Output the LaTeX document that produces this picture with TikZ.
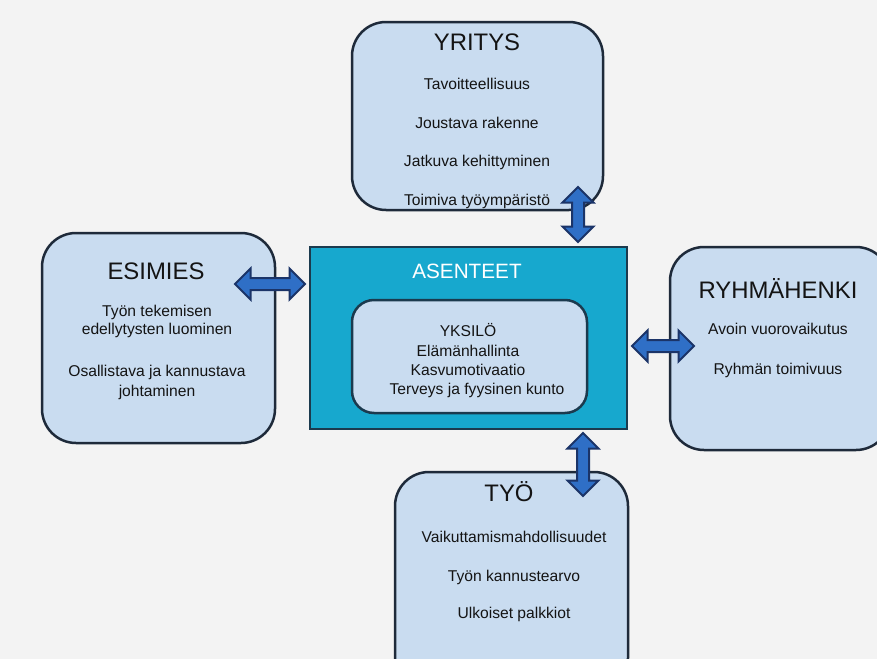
\documentclass[tikz,border=0pt]{standalone}
\usepackage{fontspec}
\setmainfont{Liberation Sans}
\usepackage{xcolor}
\usetikzlibrary{shapes.arrows}

\newdimen\pxu \pxu=0.02cm
\definecolor{bgGray}{HTML}{F3F3F3}
\definecolor{boxFill}{HTML}{C9DCF0}
\definecolor{boxLine}{HTML}{1E2A3A}
\definecolor{coreFill}{HTML}{17A8CE}
\definecolor{coreLine}{HTML}{1B3A4E}
\definecolor{arrFill}{HTML}{2F6FC6}
\definecolor{arrLine}{HTML}{1B3468}
\definecolor{txtDark}{HTML}{141414}

\tikzset{
    box/.style={draw=boxLine, fill=boxFill, line width=2.5\pxu, rounded corners=34\pxu, inner sep=0pt},
    title/.style={anchor=base, text=txtDark, font=\fontsize{13.6}{16}\selectfont},
    item/.style={anchor=base, text=txtDark, font=\fontsize{8.9}{11}\selectfont},
    dblarrow/.style={double arrow, draw=arrLine, fill=arrFill, line width=2\pxu, inner xsep=0pt, inner ysep=5\pxu,
        minimum width=29\pxu, double arrow head extend=9.5\pxu, double arrow tip angle=90, sloped, midway}
}

\begin{document}
\begin{tikzpicture}[x=0.02cm, y=-0.02cm]
        % Background
        \fill[bgGray] (0,0) rectangle (877,659);
        \useasboundingbox (0,0) rectangle (877,659);
        \clip (0,0) rectangle (877,659);

        % Yritys (top)
        \node[box, minimum width=251\pxu, minimum height=188\pxu] (yritys) at (477.5,116) {};
        \node[title] (yritysT) at (477,51) {YRITYS};
        \node[item] (yritys1) at (477,90) {Tavoitteellisuus};
        \node[item] (yritys2) at (477,128) {Joustava rakenne};
        \node[item] (yritys3) at (477,166) {Jatkuva kehittyminen};
        \node[item] (yritys4) at (477,205) {Toimiva työympäristö};

        % Esimies (left)
        \node[box, minimum width=233\pxu, minimum height=210\pxu] (esimies) at (158.5,338) {};
        \node[title] (esimiesT) at (156,279) {ESIMIES};
        \node[item] (esimies1) at (157,316) {Työn tekemisen};
        \node[item] (esimies2) at (157,334) {edellytysten luominen};
        \node[item] (esimies3) at (157,376) {Osallistava ja kannustava};
        \node[item] (esimies4) at (157,396) {johtaminen};

        % Ryhmahenki (right)
        \node[box, minimum width=220\pxu, minimum height=203\pxu] (ryhma) at (780,348.5) {};
        \node[title] (ryhmaT) at (778,298) {RYHMÄHENKI};
        \node[item] (ryhma1) at (778,334) {Avoin vuorovaikutus};
        \node[item] (ryhma2) at (778,374) {Ryhmän toimivuus};

        % Tyo (bottom)
        \node[box, minimum width=233\pxu, minimum height=220\pxu] (tyo) at (511.5,582) {};
        \node[title] (tyoT) at (509,501) {TYÖ};
        \node[item] (tyo1) at (514,542) {Vaikuttamismahdollisuudet};
        \node[item] (tyo2) at (514,581) {Työn kannustearvo};
        \node[item] (tyo3) at (514,618) {Ulkoiset palkkiot};

        % Asenteet (centre) with yksilo inside
        \node[draw=coreLine, fill=coreFill, line width=2.5\pxu, minimum width=317\pxu, minimum height=182\pxu] (asenteet) at (468.5,338) {};
        \node[anchor=base, text=white, font=\fontsize{11.8}{14}\selectfont] (asenteetT) at (467,278) {ASENTEET};
        \node[box, draw=coreLine, rounded corners=22\pxu, minimum width=235\pxu, minimum height=113\pxu] (yksilo) at (469.5,356.5) {};
        \node[item] (yksilo1) at (468,336) {YKSILÖ};
        \node[item] (yksilo2) at (468,356) {Elämänhallinta};
        \node[item] (yksilo3) at (468,375) {Kasvumotivaatio};
        \node[item] (yksilo4) at (477,394) {Terveys ja fyysinen kunto};

        % Arrows
        \coordinate (topA) at (578,187);
        \coordinate (topB) at (578,242);
        \coordinate (leftA) at (235,284);
        \coordinate (leftB) at (305,284);
        \coordinate (rightA) at (632,346);
        \coordinate (rightB) at (694,346);
        \coordinate (botA) at (583,433);
        \coordinate (botB) at (583,496);
        \path (topA) -- (topB) node[dblarrow, minimum height=55\pxu] (arrTop) {};
        \path (leftA) -- (leftB) node[dblarrow, minimum height=70\pxu] (arrLeft) {};
        \path (rightA) -- (rightB) node[dblarrow, minimum height=62\pxu] (arrRight) {};
        \path (botA) -- (botB) node[dblarrow, minimum height=63\pxu] (arrBot) {};
    \end{tikzpicture}
\end{document}
